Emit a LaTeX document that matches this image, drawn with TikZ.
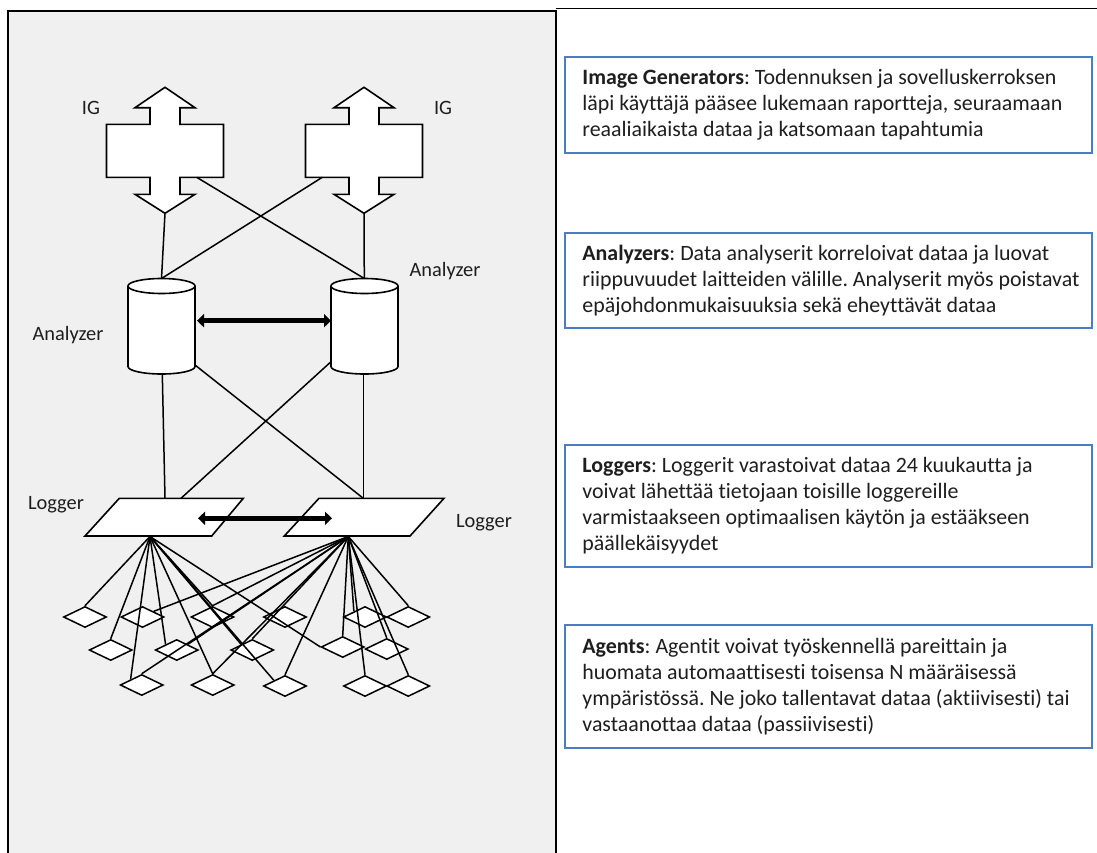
\documentclass[tikz,border=0pt]{standalone}
\usepackage{fontspec}
\setmainfont{Carlito}[Ligatures=NoCommon]
\usetikzlibrary{shapes.geometric,arrows.meta}
\definecolor{panelgray}{HTML}{F0F0F0}
\definecolor{boxblue}{HTML}{4A7EC4}
\definecolor{ink}{HTML}{1E1E1E}
\frenchspacing
\begin{document}
\begin{tikzpicture}[x=1pt,y=-1pt,
  link/.style={line width=1.5pt, draw=black},
  outline/.style={draw=black, line width=1.6pt, fill=white, line join=miter},
  agent/.style={diamond, draw=black, line width=1.5pt, fill=white,
    minimum width=43pt, minimum height=21pt, inner sep=0pt},
  peer/.style={line width=4.5pt,
    {Triangle[length=7pt,width=13pt]}-{Triangle[length=7pt,width=13pt]}},
  tag/.style={font=\fontsize{20.4}{24}\selectfont, text=ink, inner sep=0pt},
  infobox/.style={draw=boxblue, line width=1.6pt, fill=white,
    minimum width=527pt, inner sep=0pt},
  boxtext/.style={anchor=west, inner sep=0pt, align=left, text=ink,
    font=\fontsize{21.9}{26}\selectfont}]

\useasboundingbox (0,0) rectangle (1097,852);

% frames
\fill[white] (0,0) rectangle (1097,852);
\draw[line width=2pt, fill=panelgray] (8,11) rectangle (555.5,870);
\draw[line width=1.5pt] (555.5,8.4) -- (1100,8.4);

% image generators: double-headed block arrows
\foreach \c/\n in {165/igL, 364/igR}{
  \filldraw[outline] (\c,87.3) -- ++(30,20.4) -- ++(-15,0) -- ++(0,16.6)
    -- ++(43.5,0) -- ++(0,53) -- ++(-43.5,0) -- ++(0,17) -- ++(15,0)
    -- (\c,213.3) -- ++(-30,-19) -- ++(15,0) -- ++(0,-17) -- ++(-43.5,0)
    -- ++(0,-53) -- ++(43.5,0) -- ++(0,-16.6) -- ++(-15,0) -- cycle;
  \coordinate (\n-tip) at (\c,213.3);
}
\coordinate (igL-br) at (196.7,177.3);
\coordinate (igR-bl) at (322.3,177.3);

\node[tag] (igL-text) at (91,108) {IG};
\node[tag] (igR-text) at (443,108) {IG};

% analyzers: cylinders
\coordinate (anL-top) at (161.5,278.5);
\coordinate (anR-top) at (364.3,278.5);
\draw[link] (igL-tip) -- (anL-top);
\draw[link] (igR-tip) -- (anR-top);
\draw[link] (igL-br) -- (anR-top);
\draw[link] (igR-bl) -- (anL-top);

\foreach \l in {128, 331}{
  \filldraw[outline] (\l,286) -- (\l,366.5)
    arc[start angle=180, end angle=0, x radius=33.5, y radius=7.5]
    -- (\l+67,286)
    arc[start angle=0, end angle=-180, x radius=33.5, y radius=7.5] -- cycle;
  \draw[outline, fill=none] (\l,286)
    arc[start angle=180, end angle=0, x radius=33.5, y radius=7.5];
}
\coordinate (anL-east) at (197,320.7);
\coordinate (anR-west) at (331,320.7);
\draw[peer] (anL-east) -- (anR-west);

\node[tag] (anL-text) at (68,335) {Analyzer};
\node[tag] (anR-text) at (445,271) {Analyzer};

% analyzer to logger links
\coordinate (anL-bot) at (162.3,374);
\coordinate (anL-se) at (195,365);
\coordinate (anR-sw) at (331,361.7);
\coordinate (anR-bot) at (363.3,374);
\coordinate (lgL-top) at (165,498.3);
\coordinate (lgL-topr) at (181,498.3);
\coordinate (lgR-top) at (363.3,498.3);
\draw[link] (anL-bot) -- (lgL-top);
\draw[link] (anL-se) -- (lgR-top);
\draw[link] (anR-sw) -- (lgL-topr);
\draw[link] (anR-bot) -- (lgR-top);

% loggers: parallelograms
\filldraw[outline] (119.3,498.3) -- (243.3,498.3) -- (211.7,536) -- (85,536) -- cycle;
\filldraw[outline] (319,498.3) -- (444,498.3) -- (410,536) -- (284.3,536) -- cycle;
\coordinate (lgL-east) at (198,518.3);
\coordinate (lgR-west) at (332,518.3);
\draw[peer] (lgL-east) -- (lgR-west);

\node[tag] (lgL-text) at (56,505) {Logger};
\node[tag] (lgR-text) at (484,523) {Logger};

% agents
\node[agent] (a1) at (85,617) {};
\node[agent] (a2) at (142.5,617) {};
\node[agent] (a3) at (212.5,617) {};
\node[agent] (a4) at (285,617) {};
\node[agent] (a5) at (365,617) {};
\node[agent] (a6) at (408.3,617) {};
\node[agent] (b1) at (110.7,650) {};
\node[agent] (b2) at (176.7,650) {};
\node[agent] (b3) at (252.3,650) {};
\node[agent] (b4) at (342.7,647) {};
\node[agent] (b5) at (386.7,649) {};
\node[agent] (c1) at (141.7,685) {};
\node[agent] (c2) at (212.7,685) {};
\node[agent] (c3) at (285,686) {};
\node[agent] (c4) at (365,686) {};
\node[agent] (c5) at (408.3,686) {};

\coordinate (lgL-fan) at (150,536.5);
\coordinate (lgR-fan) at (348.3,536.5);
\foreach \t in {a1.north, b1.north, c1.north west, b2.north west, a3.north,
                c2.north, b3.north west, c3.north west, b4.west}
  \draw[link] (lgL-fan) -- (\t);
\foreach \t in {a2.north east, b2.north east, c1.north, a3.north, c2.north,
                b3.north, c3.north, b4.north, a5.north west, c4.north,
                b5.north, a6.north, c5.north}
  \draw[link] (lgR-fan) -- (\t);

% descriptions
\node[infobox, minimum height=96pt] (ig-box) at (828.5,105) {};
\node[boxtext] (ig-text) at ([xshift=18pt]ig-box.west)
  {\textbf{Image Generators}: Todennuksen ja sovelluskerroksen\\
   läpi käyttäjä pääsee lukemaan raportteja, seuraamaan\\
   reaaliaikaista dataa ja katsomaan tapahtumia};
\node[infobox, minimum height=95pt] (an-box) at (828.5,280.5) {};
\node[boxtext] (an-text) at ([xshift=18pt]an-box.west)
  {\textbf{Analyzers}: Data analyserit korreloivat dataa ja luovat\\
   riippuvuudet laitteiden välille. Analyserit myös poistavat\\
   epäjohdonmukaisuuksia sekä eheyttävät dataa};
\node[infobox, minimum height=122pt] (lg-box) at (828.5,506) {};
\node[boxtext] (lg-text) at ([xshift=18pt]lg-box.west)
  {\textbf{Loggers}: Loggerit varastoivat dataa 24 kuukautta ja\\
   voivat lähettää tietojaan toisille loggereille\\
   varmistaakseen optimaalisen käytön ja estääkseen\\
   päällekäisyydet};
\node[infobox, minimum height=123pt] (ag-box) at (828.5,686.5) {};
\node[boxtext] (ag-text) at ([xshift=18pt]ag-box.west)
  {\textbf{Agents}: Agentit voivat työskennellä pareittain ja\\
   huomata automaattisesti toisensa N määräisessä\\
   ympäristössä. Ne joko tallentavat dataa (aktiivisesti) tai\\
   vastaanottaa dataa (passiivisesti)};
\end{tikzpicture}
\end{document}
